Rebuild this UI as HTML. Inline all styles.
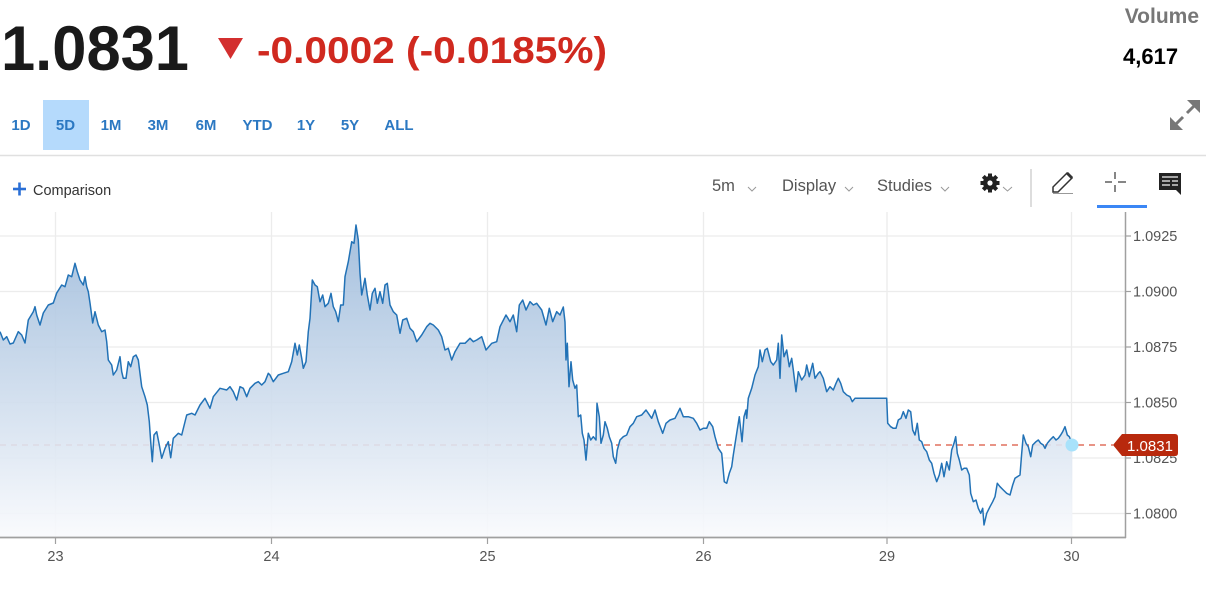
<!DOCTYPE html>
<html>
<head>
<meta charset="utf-8">
<style>
  html, body { margin: 0; padding: 0; background: #ffffff; }
  body { width: 1206px; height: 611px; overflow: hidden; }
  svg { display: block; font-family: "Liberation Sans", Arial, sans-serif; }
</style>
</head>
<body>
<svg width="1206" height="611" viewBox="0 0 1206 611" xmlns="http://www.w3.org/2000/svg">
  <defs>
    <linearGradient id="fillGrad" gradientUnits="userSpaceOnUse" x1="0" y1="225" x2="0" y2="537">
      <stop offset="0" stop-color="#9bb9da"/>
      <stop offset="0.7" stop-color="#dce6f2"/>
      <stop offset="1" stop-color="#f9fafd"/>
    </linearGradient>
  </defs>

  <!-- Header -->
  <text x="1" y="70" font-size="63" font-weight="bold" fill="#1a1a1a" textLength="188" lengthAdjust="spacingAndGlyphs">1.0831</text>
  <polygon points="218,38 243,38 230.5,59" fill="#d32f2f"/>
  <text x="257" y="63" font-size="37" font-weight="bold" fill="#d0291f" textLength="350" lengthAdjust="spacingAndGlyphs">-0.0002 (-0.0185%)</text>

  <text x="1199" y="23" font-size="21" font-weight="bold" fill="#777777" text-anchor="end">Volume</text>
  <text x="1123" y="64" font-size="22" font-weight="bold" fill="#000000">4,617</text>

  <!-- expand icon -->
  <g stroke="#777" stroke-width="3" fill="#777">
    <line x1="1175" y1="125" x2="1183" y2="117"/>
    <line x1="1187" y1="113" x2="1195" y2="105"/>
  </g>
  <polygon points="1200,100 1187,100 1200,113" fill="#777"/>
  <polygon points="1170,130 1183,130 1170,117" fill="#777"/>

  <!-- range buttons -->
  <rect x="43" y="100" width="46" height="50" fill="#b5dafc"/>
  <g font-size="15" font-weight="bold" fill="#2b78c2" text-anchor="middle">
    <text x="21" y="130">1D</text>
    <text x="65.5" y="130">5D</text>
    <text x="111" y="130">1M</text>
    <text x="158" y="130">3M</text>
    <text x="206" y="130">6M</text>
    <text x="257.5" y="130">YTD</text>
    <text x="306" y="130">1Y</text>
    <text x="350" y="130">5Y</text>
    <text x="399" y="130">ALL</text>
  </g>
  <line x1="0" y1="155.5" x2="1206" y2="155.5" stroke="#e0e0e0" stroke-width="1.5"/>

  <!-- Toolbar -->
  <g stroke="#2a6fd6" stroke-width="2.6">
    <line x1="13" y1="189" x2="26" y2="189"/>
    <line x1="19.5" y1="182.5" x2="19.5" y2="195.5"/>
  </g>
  <text x="33" y="195" font-size="14.5" fill="#333">Comparison</text>

  <g font-size="16.5" fill="#555">
    <text x="712" y="191">5m</text>
    <text x="782" y="191">Display</text>
    <text x="877" y="191">Studies</text>
  </g>
  <g stroke="#999" stroke-width="1" fill="none">
    <polyline points="748,187 752,191 756,187"/>
    <polyline points="845,187 849,191 853,187"/>
    <polyline points="941,187 945,191 949,187"/>
    <polyline points="1003,187 1007.5,191 1012,187"/>
  </g>
  <!-- gear -->
  <g transform="translate(990,183)" fill="#222">
    <circle r="7"/>
    <rect x="-2" y="-9.5" width="4" height="19"/>
    <rect x="-2" y="-9.5" width="4" height="19" transform="rotate(45)"/>
    <rect x="-2" y="-9.5" width="4" height="19" transform="rotate(90)"/>
    <rect x="-2" y="-9.5" width="4" height="19" transform="rotate(135)"/>
    <circle r="2.6" fill="#fff"/>
  </g>
  <line x1="1031" y1="169" x2="1031" y2="207" stroke="#ddd" stroke-width="2"/>
  <!-- pencil -->
  <path d="M1053,192 L1053,187 L1067,173 L1072,178 L1058,192 Z" fill="none" stroke="#333" stroke-width="1.5"/>
  <polygon points="1066,174 1068,172 1073,177 1071,179" fill="#333"/>
  <line x1="1053" y1="193.5" x2="1073" y2="193.5" stroke="#999" stroke-width="1"/>
  <!-- crosshair -->
  <g stroke="#444" stroke-width="1.3">
    <line x1="1105" y1="182" x2="1112" y2="182"/>
    <line x1="1118" y1="182" x2="1126" y2="182"/>
    <line x1="1115" y1="172" x2="1115" y2="179"/>
    <line x1="1115" y1="185" x2="1115" y2="192"/>
  </g>
  <rect x="1097" y="205" width="50" height="3" fill="#3b87f5"/>
  <!-- comment icon -->
  <rect x="1159" y="173" width="22" height="17" fill="#222"/>
  <polygon points="1175,189 1181,189 1181,195" fill="#222"/>
  <g stroke="#fff" stroke-width="1.2">
    <line x1="1162" y1="177" x2="1178" y2="177"/>
    <line x1="1162" y1="181" x2="1170" y2="181"/>
    <line x1="1172" y1="181" x2="1178" y2="181"/>
    <line x1="1162" y1="185" x2="1170" y2="185"/>
    <line x1="1172" y1="185" x2="1178" y2="185"/>
  </g>

  <!-- Chart gridlines -->
  <g stroke="#ececec" stroke-width="1.3">
    <line x1="0" y1="236" x2="1125" y2="236"/>
    <line x1="0" y1="291.5" x2="1125" y2="291.5"/>
    <line x1="0" y1="347" x2="1125" y2="347"/>
    <line x1="0" y1="402.5" x2="1125" y2="402.5"/>
    <line x1="0" y1="458" x2="1125" y2="458"/>
    <line x1="0" y1="513.5" x2="1125" y2="513.5"/>
    <line x1="55.5" y1="212" x2="55.5" y2="537"/>
    <line x1="271.5" y1="212" x2="271.5" y2="537"/>
    <line x1="487.5" y1="212" x2="487.5" y2="537"/>
    <line x1="703.5" y1="212" x2="703.5" y2="537"/>
    <line x1="887" y1="212" x2="887" y2="537"/>
    <line x1="1071.5" y1="212" x2="1071.5" y2="537"/>
  </g>

  <!-- dashed last price line -->
  <line x1="0" y1="445" x2="1113" y2="445" stroke="#d9533f" stroke-width="1.3" stroke-dasharray="6,5"/>

  <!-- area fill -->
  <path fill="url(#fillGrad)" fill-opacity="0.9" d="M0,537 L0,331.7 3.3,340 6.7,336.7 10,344 13.3,343 18.3,331.7 21.7,335 25,343 28.3,320 33.3,311.7 35,306.7 36.7,315 40,325 43.3,313 48.3,305 53.3,303 56.7,293 61.7,285 65,286.7 68.3,275 71.7,276.7 75,263.3 77.3,271.7 80,280 83.3,285 85,276.7 86.7,286.7 88.3,291.7 90,303 92.7,323 95,311.7 98.3,325 101.7,331.7 105,330 106.7,341.7 108.3,360 111.7,365 113.3,375 116.7,370 120,356.7 121.7,371.7 123.3,378.3 126,378.3 128.3,361.7 130.7,366.7 133.3,356.7 136,355 138.3,360 141.7,386.7 145,396.7 147.3,405 149.3,421.7 150.7,441.7 152.3,461.7 154,435 156.7,431.7 159.3,445 161.7,458.3 165,448.3 168.3,441.7 170.7,457.7 173.3,438.3 178.3,433.3 181.7,435 186.7,415 191.7,413.3 195,415 200,405 205,398.3 210,408.3 213.3,396.7 220,388.3 226.7,390 230,386.7 233.3,391.7 236.7,400 240,386.7 243.3,388.3 246.7,396.7 250,388.3 255,383.3 258.3,381.7 261.7,385 265,381.7 268.3,373.3 270,375 273.3,381.7 278.3,375 283.3,373.3 288.3,371.7 291.7,361.7 295,343.3 297.3,355 299.3,345 301.7,358.3 303.3,368.3 306,361.7 308.3,331.7 310,318.3 312.3,280 315,285 317.3,286.7 320,301.7 322.7,295 325,306.7 328.3,303.3 331,293.3 333.3,306.7 335.7,311.7 338.3,321.7 340.7,305 343.3,305 345,276.7 348.3,261.7 351.7,241.7 354,243.3 356,225 358.3,240 360,273.3 361.7,295 365,278.3 367.3,295 370,310 372.3,293.3 375,288.3 377.3,303.3 380,291.7 382.7,303.3 385,285 387.3,283.3 390,305 393.3,311.7 396.7,315 400,333.3 402.7,320 406.7,318.3 410,328.3 413.3,331.7 416.7,341.7 421.7,335 426.7,326.7 430,323.3 433.3,325 438.3,330 441.7,336.7 445,350 448.3,348.3 451.7,360 455,351.7 460,343.3 465,343.3 470,338.3 473.3,341.7 476.7,340 481.7,336.7 486,350 491.7,343.3 496.7,341.7 500,326.7 506,315 510,321.7 513.3,315 516.7,331.7 519.3,305 522.7,300 526,310 530,301.7 533.3,305 536.7,303.3 541.7,310 546,325 549.3,308.3 552.7,321.7 556.7,311.7 560,315 563.3,307 565,322 566,360 567.3,343.3 569,386.7 571,361.7 572.7,380 575,388.3 576.7,385 578.3,416.7 580.7,415 582.3,433.3 584,440 586,460 588.3,433.3 590.7,440 593.3,436.7 596,440 597,403.3 599.3,416.7 601,443.3 603.3,435 605,421.7 607.3,428.3 609.3,436.7 611.7,443.3 613.3,456.7 615.7,463.3 617.3,450 620,440 623.3,436.7 626.7,435 630,426.7 633.3,423.3 636.7,416.7 641.7,415 646,410 648.3,413.3 651.7,418.3 655,410 658.3,421.7 662.7,433.3 666,423.3 670,420 675,418.3 680,408.3 683.3,416.7 688.3,416.7 693.3,418.3 696.7,423.3 700,430 703.3,428.3 706.7,428.3 709.3,421.7 712.7,426.7 715,436.7 718.3,448.3 721.7,453.3 724.3,481.7 726.7,483.3 729.3,473.3 731.7,466.7 733.3,455 736.7,433.3 739.3,416.7 742,441.7 744,416.7 746,410 746.7,418.3 748.3,398.3 751.7,388.3 755,375 758.3,366.7 760,350 762.3,361.7 765,350 767.3,348.3 770.7,361.7 773.3,365 776.7,360 778.3,343.3 780,378.3 781.7,335 784,356.7 786.7,350 789.3,366.7 791.7,358.3 793.3,370 796,391.7 798.3,371.7 801.7,380 805,375 806.7,365 809.3,376.7 812.7,363.3 815,378.3 818.3,373.3 820,371.7 823.3,378.3 826.7,391.7 830,386.7 833.3,390 836,383.3 838.3,378.3 840.7,383.3 843.3,391.7 846.7,395 850,396.7 852.3,401.7 855,398.3 886.7,398.3 887.7,423.3 890.7,426.7 893.3,428.3 896,428.3 898.3,420 901,418.3 903.3,411.7 906,418.3 908.3,410 910.7,411.7 912.7,430 915,435 917.3,423.3 919.3,440 921.7,441.7 924,448.3 926.7,451.7 929.3,460 931.7,463.3 934,473.3 936.7,481.7 939.3,475 941.7,463.3 944,476.7 946.7,461.7 949.3,470 951.7,450 954,443.3 955.7,436.7 957.3,453.3 959.3,460 961.7,470 964,468.3 966.7,468.3 969.3,475 970.7,493.3 973.3,501.7 976,500 978.3,508.3 980.7,513.3 982.7,508.3 984,525 986.7,513.3 990,506.7 992.7,501.7 995,496.7 997.3,483.3 1000,486.7 1003.3,490 1006.7,493.3 1010,495 1012.7,485 1015,478.3 1017.3,476.7 1020,475 1021.7,453.3 1023.3,435 1026,443.3 1028.3,446.7 1030.7,456.7 1032.7,445 1036,441.7 1038.3,440 1040.7,443.3 1043.3,445 1045,448.3 1047.3,443.3 1050,440 1053.3,436.7 1056,440 1058.3,438.3 1060.7,435 1062.7,431.7 1065,426.7 1067.3,435 1069.3,436.7 1070.7,440 1072.3,445 L1072.3,537 Z"/>

  <!-- price line -->
  <polyline fill="none" stroke="#2272b6" stroke-width="1.5" stroke-linejoin="round" points="0,331.7 3.3,340 6.7,336.7 10,344 13.3,343 18.3,331.7 21.7,335 25,343 28.3,320 33.3,311.7 35,306.7 36.7,315 40,325 43.3,313 48.3,305 53.3,303 56.7,293 61.7,285 65,286.7 68.3,275 71.7,276.7 75,263.3 77.3,271.7 80,280 83.3,285 85,276.7 86.7,286.7 88.3,291.7 90,303 92.7,323 95,311.7 98.3,325 101.7,331.7 105,330 106.7,341.7 108.3,360 111.7,365 113.3,375 116.7,370 120,356.7 121.7,371.7 123.3,378.3 126,378.3 128.3,361.7 130.7,366.7 133.3,356.7 136,355 138.3,360 141.7,386.7 145,396.7 147.3,405 149.3,421.7 150.7,441.7 152.3,461.7 154,435 156.7,431.7 159.3,445 161.7,458.3 165,448.3 168.3,441.7 170.7,457.7 173.3,438.3 178.3,433.3 181.7,435 186.7,415 191.7,413.3 195,415 200,405 205,398.3 210,408.3 213.3,396.7 220,388.3 226.7,390 230,386.7 233.3,391.7 236.7,400 240,386.7 243.3,388.3 246.7,396.7 250,388.3 255,383.3 258.3,381.7 261.7,385 265,381.7 268.3,373.3 270,375 273.3,381.7 278.3,375 283.3,373.3 288.3,371.7 291.7,361.7 295,343.3 297.3,355 299.3,345 301.7,358.3 303.3,368.3 306,361.7 308.3,331.7 310,318.3 312.3,280 315,285 317.3,286.7 320,301.7 322.7,295 325,306.7 328.3,303.3 331,293.3 333.3,306.7 335.7,311.7 338.3,321.7 340.7,305 343.3,305 345,276.7 348.3,261.7 351.7,241.7 354,243.3 356,225 358.3,240 360,273.3 361.7,295 365,278.3 367.3,295 370,310 372.3,293.3 375,288.3 377.3,303.3 380,291.7 382.7,303.3 385,285 387.3,283.3 390,305 393.3,311.7 396.7,315 400,333.3 402.7,320 406.7,318.3 410,328.3 413.3,331.7 416.7,341.7 421.7,335 426.7,326.7 430,323.3 433.3,325 438.3,330 441.7,336.7 445,350 448.3,348.3 451.7,360 455,351.7 460,343.3 465,343.3 470,338.3 473.3,341.7 476.7,340 481.7,336.7 486,350 491.7,343.3 496.7,341.7 500,326.7 506,315 510,321.7 513.3,315 516.7,331.7 519.3,305 522.7,300 526,310 530,301.7 533.3,305 536.7,303.3 541.7,310 546,325 549.3,308.3 552.7,321.7 556.7,311.7 560,315 563.3,307 565,322 566,360 567.3,343.3 569,386.7 571,361.7 572.7,380 575,388.3 576.7,385 578.3,416.7 580.7,415 582.3,433.3 584,440 586,460 588.3,433.3 590.7,440 593.3,436.7 596,440 597,403.3 599.3,416.7 601,443.3 603.3,435 605,421.7 607.3,428.3 609.3,436.7 611.7,443.3 613.3,456.7 615.7,463.3 617.3,450 620,440 623.3,436.7 626.7,435 630,426.7 633.3,423.3 636.7,416.7 641.7,415 646,410 648.3,413.3 651.7,418.3 655,410 658.3,421.7 662.7,433.3 666,423.3 670,420 675,418.3 680,408.3 683.3,416.7 688.3,416.7 693.3,418.3 696.7,423.3 700,430 703.3,428.3 706.7,428.3 709.3,421.7 712.7,426.7 715,436.7 718.3,448.3 721.7,453.3 724.3,481.7 726.7,483.3 729.3,473.3 731.7,466.7 733.3,455 736.7,433.3 739.3,416.7 742,441.7 744,416.7 746,410 746.7,418.3 748.3,398.3 751.7,388.3 755,375 758.3,366.7 760,350 762.3,361.7 765,350 767.3,348.3 770.7,361.7 773.3,365 776.7,360 778.3,343.3 780,378.3 781.7,335 784,356.7 786.7,350 789.3,366.7 791.7,358.3 793.3,370 796,391.7 798.3,371.7 801.7,380 805,375 806.7,365 809.3,376.7 812.7,363.3 815,378.3 818.3,373.3 820,371.7 823.3,378.3 826.7,391.7 830,386.7 833.3,390 836,383.3 838.3,378.3 840.7,383.3 843.3,391.7 846.7,395 850,396.7 852.3,401.7 855,398.3 886.7,398.3 887.7,423.3 890.7,426.7 893.3,428.3 896,428.3 898.3,420 901,418.3 903.3,411.7 906,418.3 908.3,410 910.7,411.7 912.7,430 915,435 917.3,423.3 919.3,440 921.7,441.7 924,448.3 926.7,451.7 929.3,460 931.7,463.3 934,473.3 936.7,481.7 939.3,475 941.7,463.3 944,476.7 946.7,461.7 949.3,470 951.7,450 954,443.3 955.7,436.7 957.3,453.3 959.3,460 961.7,470 964,468.3 966.7,468.3 969.3,475 970.7,493.3 973.3,501.7 976,500 978.3,508.3 980.7,513.3 982.7,508.3 984,525 986.7,513.3 990,506.7 992.7,501.7 995,496.7 997.3,483.3 1000,486.7 1003.3,490 1006.7,493.3 1010,495 1012.7,485 1015,478.3 1017.3,476.7 1020,475 1021.7,453.3 1023.3,435 1026,443.3 1028.3,446.7 1030.7,456.7 1032.7,445 1036,441.7 1038.3,440 1040.7,443.3 1043.3,445 1045,448.3 1047.3,443.3 1050,440 1053.3,436.7 1056,440 1058.3,438.3 1060.7,435 1062.7,431.7 1065,426.7 1067.3,435 1069.3,436.7 1070.7,440 1072.3,445"/>

  <circle cx="1072" cy="445" r="6.5" fill="#a8e2fb"/>

  <!-- axes -->
  <line x1="1125.5" y1="212" x2="1125.5" y2="538" stroke="#a0a0a0" stroke-width="1.5"/>
  <line x1="0" y1="537.5" x2="1126" y2="537.5" stroke="#a0a0a0" stroke-width="1.8"/>
  <g stroke="#a0a0a0" stroke-width="1.2">
    <line x1="55.5" y1="538" x2="55.5" y2="544"/>
    <line x1="271.5" y1="538" x2="271.5" y2="544"/>
    <line x1="487.5" y1="538" x2="487.5" y2="544"/>
    <line x1="703.5" y1="538" x2="703.5" y2="544"/>
    <line x1="887" y1="538" x2="887" y2="544"/>
    <line x1="1071.5" y1="538" x2="1071.5" y2="544"/>
    <line x1="1126" y1="236" x2="1131" y2="236"/>
    <line x1="1126" y1="291.5" x2="1131" y2="291.5"/>
    <line x1="1126" y1="347" x2="1131" y2="347"/>
    <line x1="1126" y1="402.5" x2="1131" y2="402.5"/>
    <line x1="1126" y1="458" x2="1131" y2="458"/>
    <line x1="1126" y1="513.5" x2="1131" y2="513.5"/>
  </g>

  <g font-size="14.5" fill="#555">
    <text x="1133" y="241">1.0925</text>
    <text x="1133" y="296.5">1.0900</text>
    <text x="1133" y="352">1.0875</text>
    <text x="1133" y="407.5">1.0850</text>
    <text x="1133" y="463">1.0825</text>
    <text x="1133" y="518.5">1.0800</text>
  </g>
  <g font-size="14.5" fill="#555" text-anchor="middle">
    <text x="55.5" y="561">23</text>
    <text x="271.5" y="561">24</text>
    <text x="487.5" y="561">25</text>
    <text x="703.5" y="561">26</text>
    <text x="887" y="561">29</text>
    <text x="1071.5" y="561">30</text>
  </g>

  <!-- price badge -->
  <path d="M1113,445 L1122,434 L1175,434 Q1178,434 1178,437 L1178,453 Q1178,456 1175,456 L1122,456 Z" fill="#b8290d"/>
  <text x="1150" y="451" font-size="15" fill="#ffffff" text-anchor="middle">1.0831</text>
</svg>
</body>
</html>
